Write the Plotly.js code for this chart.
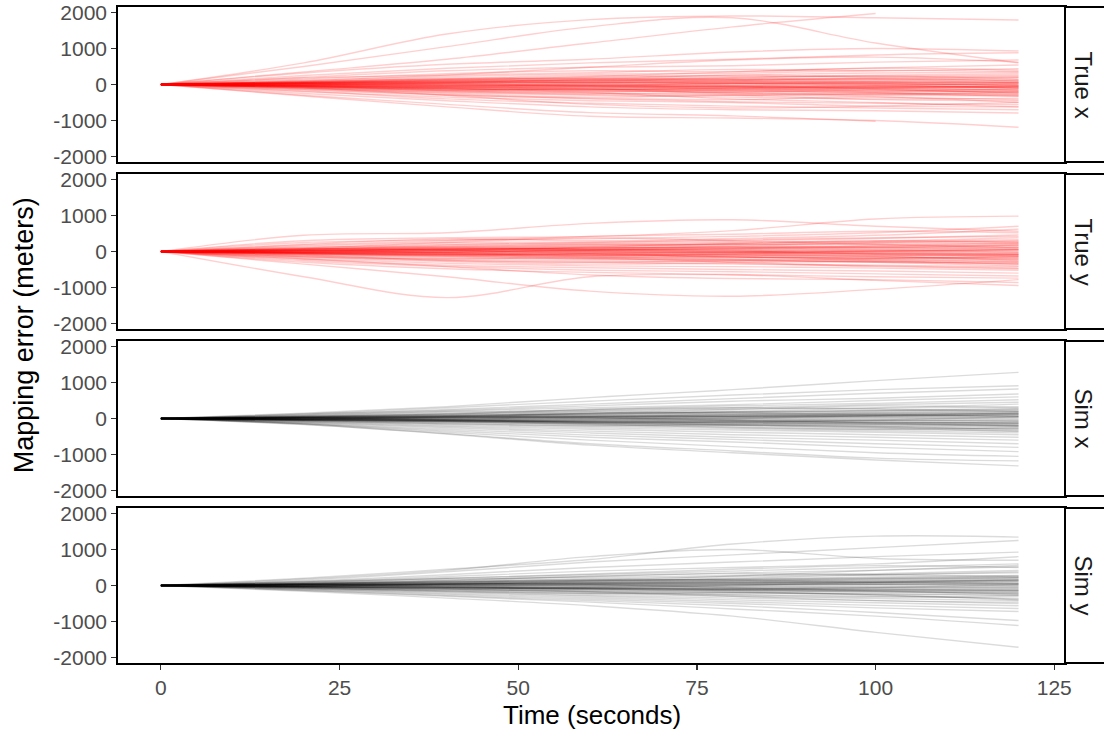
<!DOCTYPE html>
<html>
<head>
<meta charset="utf-8">
<script src="https://cdn.plot.ly/plotly-3.0.1.min.js"></script>
<style>html,body{margin:0;padding:0;background:#fff;}#chart{width:1104px;height:730px;}</style>
</head>
<body>
<div id="chart"></div>
<script>
const TIME = [0, 20, 40, 60, 80, 100, 120];

const PANEL_LABELS = ["True x", "True y", "Sim x", "Sim y"];
const X_TICKS = [0, 25, 50, 75, 100, 125];
const Y_TICKS = [-2000, -1000, 0, 1000, 2000];
const Y_TICK_TEXT = ["-2000", "-1000", "0", "1000", "2000"];

const TRUE_X = [
[0, 600, 1400, 1800, 1900, 1850, 1790],
[0, 500, 1050, 1600, 1850, 1150, 600],
[0, 350, 700, 1150, 1600, 1970, null],
[0, 320, 560, 700, 900, 1000, 930],
[0, 250, 450, 600, 700, 820, 880],
[0, 200, 380, 480, 520, 620, 680],
[0, 150, 300, 380, 360, 460, 540],
[0, 180, 260, 330, 420, 380, 440],
[0, 120, 220, 290, 310, 390, 360],
[0, 100, 160, 250, 220, 260, 300],
[0, 80, 180, 160, 260, 210, 230],
[0, 60, 110, 180, 160, 130, 190],
[0, 50, 80, 110, 130, 160, 110],
[0, 30, 50, 40, 80, 60, 60],
[0, 20, 20, 60, 20, 0, -20],
[0, 0, -30, 0, -20, -50, -60],
[0, -20, -50, -80, -60, -100, -90],
[0, -40, -80, -60, -120, -130, -150],
[0, -30, -100, -150, -100, -180, -120],
[0, -60, -120, -180, -200, -150, -230],
[0, -50, -150, -120, -250, -280, -200],
[0, -80, -180, -250, -230, -300, -320],
[0, -100, -200, -280, -300, -250, -280],
[0, -120, -220, -300, -350, -400, -380],
[0, -90, -250, -350, -300, -420, -450],
[0, -150, -300, -380, -420, -350, -500],
[0, -130, -280, -400, -480, -520, -560],
[0, -200, -350, -450, -500, -600, -620],
[0, -180, -400, -520, -600, -650, -700],
[0, -250, -450, -620, -700, -730, -790],
[0, -300, -550, -780, -870, -1020, null],
[0, -320, -620, -880, -930, -1000, -1185],
[0, 100, 260, 480, 680, 760, 620],
[0, -100, -300, -550, -650, -600, -500],
[0, 50, 130, 220, 350, 450, 400],
[0, -60, -110, -220, -400, -500, -620],
[0, 40, 60, 130, 90, 70, 20],
[0, -10, 10, -40, 30, -20, 40],
[0, 70, 140, 100, 180, 240, 150],
[0, -70, -160, -200, -160, -220, -260],
[0, 40, 90, 120, 150, 180, 200],
[0, -30, -60, -50, -90, -60, -100],
[0, 20, 40, 80, 110, 90, 130],
[0, -50, -90, -130, -170, -200, -180],
[0, 60, 70, 50, 30, 80, 60],
[0, -20, -20, -60, -40, -80, -40],
[0, 10, 50, 70, 40, 20, -10],
[0, -40, -70, -100, -130, -110, -170],
[0, 30, 20, -20, -60, -100, -140],
[0, -10, -40, -20, 10, 40, 80],
[0, 50, 100, 140, 200, 230, 260],
[0, -60, -140, -170, -220, -260, -300],
[0, 0, 30, 20, 50, 20, 10],
[0, -30, -80, -120, -140, -170, -210],
[0, 20, -10, -30, -80, -40, -60],
[0, 70, 120, 160, 130, 170, 100],
[0, -70, -120, -140, -180, -230, -330],
[0, 10, -20, 10, -30, -20, -100],
[0, 40, 90, 60, 100, 130, 40],
[0, -20, -60, -90, -70, -130, -240],
[0, 30, 60, 100, 60, 40, -30],
[0, -50, -110, -140, -110, -90, -50],
[0, 80, 150, 200, 260, 320, 340],
[0, -90, -170, -240, -280, -340, -420],
[0, 0, -10, -30, -50, -70, -80]
];

const TRUE_Y = [
[0, 450, 520, 780, 880, 700, 560],
[0, 300, 380, 420, 580, 900, 980],
[0, -700, -1280, -700, -650, -800, -944],
[0, -350, -700, -1100, -1240, -1050, -780],
[0, 250, 320, 350, 420, 520, 700],
[0, 200, 350, 300, 360, 450, 620],
[0, 150, 250, 260, 300, 360, 460],
[0, 100, 200, 220, 260, 290, 380],
[0, 120, 150, 200, 180, 250, 300],
[0, 80, 120, 150, 200, 180, 240],
[0, 60, 100, 80, 140, 120, 180],
[0, 40, 60, 100, 90, 110, 120],
[0, 20, 50, 40, 60, 40, 60],
[0, 10, 0, 20, -10, 10, 0],
[0, -10, -20, -40, -20, -50, -30],
[0, -20, -50, -60, -80, -70, -90],
[0, -30, -80, -100, -90, -120, -140],
[0, -50, -100, -80, -150, -180, -160],
[0, -60, -120, -160, -140, -200, -220],
[0, -80, -150, -200, -220, -250, -270],
[0, -100, -180, -220, -260, -300, -330],
[0, -120, -220, -260, -300, -280, -360],
[0, -140, -250, -300, -350, -380, -420],
[0, -160, -280, -350, -330, -420, -480],
[0, -200, -330, -400, -420, -460, -520],
[0, -230, -380, -450, -500, -540, -600],
[0, -260, -420, -520, -560, -620, -680],
[0, -300, -480, -580, -640, -700, -740],
[0, -200, -420, -650, -750, -780, -860],
[0, 180, 300, 420, 480, 560, 520],
[0, 60, 180, 250, 330, 380, 420],
[0, -40, -30, 50, 100, 150, 200],
[0, 30, -40, -100, -60, 0, 60],
[0, -100, -250, -300, -250, -200, -150],
[0, 80, 40, -60, -150, -250, -350],
[0, -20, 20, 120, 220, 300, 250],
[0, -150, -200, -180, -300, -400, -460],
[0, 100, 250, 380, 300, 200, 100],
[0, -50, -80, -150, -220, -300, -400],
[0, 0, 80, 60, 20, -80, -120],
[0, 50, 80, 120, 100, 150, 170],
[0, -40, -60, -40, -90, -110, -80],
[0, 30, 60, 50, 90, 60, 110],
[0, -60, -110, -150, -180, -160, -210],
[0, 20, 10, -20, 0, 30, -20],
[0, -20, -40, -90, -120, -150, -190],
[0, 70, 110, 160, 200, 240, 280],
[0, -10, 20, 40, 20, -20, -60],
[0, 40, 30, 0, -40, -90, -120],
[0, -70, -90, -60, -30, 10, 40],
[0, 10, 40, 90, 130, 110, 150],
[0, -30, -70, -110, -100, -140, -250],
[0, 60, 90, 70, 40, 10, 30],
[0, -80, -130, -190, -240, -280, -310],
[0, 0, -20, -10, -50, -40, -70],
[0, 30, 70, 110, 150, 210, 230],
[0, -50, -90, -120, -160, -210, -290],
[0, 20, 50, 20, -10, -60, -90],
[0, -30, -20, 20, 60, 90, 70],
[0, 80, 140, 190, 230, 270, 330]
];

const SIM_X = [
[0, 150, 330, 580, 800, 1050, 1280],
[0, 120, 300, 480, 650, 800, 910],
[0, 100, 250, 400, 550, 700, 820],
[0, 130, 220, 350, 480, 560, 680],
[0, 80, 200, 300, 380, 500, 600],
[0, 60, 150, 250, 350, 420, 520],
[0, 90, 180, 220, 300, 380, 450],
[0, 50, 120, 200, 260, 300, 400],
[0, 40, 100, 150, 200, 280, 330],
[0, 30, 80, 120, 180, 220, 280],
[0, 20, 60, 100, 120, 170, 200],
[0, 30, 40, 60, 100, 120, 150],
[0, 10, 30, 50, 60, 80, 100],
[0, 0, 10, 20, 10, 30, 40],
[0, -10, 0, -10, -20, -10, -20],
[0, -20, -30, -40, -50, -60, -70],
[0, -10, -40, -70, -90, -100, -120],
[0, -30, -60, -100, -120, -150, -180],
[0, -40, -80, -130, -160, -200, -230],
[0, -50, -100, -150, -200, -260, -290],
[0, -60, -120, -180, -240, -300, -350],
[0, -70, -140, -220, -280, -340, -400],
[0, -80, -170, -260, -320, -380, -450],
[0, -90, -200, -300, -380, -450, -520],
[0, -100, -230, -350, -450, -520, -600],
[0, -110, -260, -400, -520, -600, -700],
[0, -130, -300, -460, -580, -700, -800],
[0, -140, -340, -520, -650, -800, -920],
[0, -150, -380, -600, -780, -950, -1050],
[0, -160, -420, -700, -900, -1100, -1175],
[0, -170, -430, -740, -950, -1150, -1314],
[0, 70, 120, 250, 300, 260, 200],
[0, -20, 50, 150, 250, 350, 300],
[0, 20, -20, -100, -100, -50, 50],
[0, -50, -70, -40, 0, 80, 150],
[0, 40, 60, 20, -50, -120, -200],
[0, -30, -90, -160, -250, -300, -260],
[0, 60, 130, 180, 150, 120, 60],
[0, -60, -150, -200, -180, -220, -320],
[0, 10, -50, -120, -180, -250, -360],
[0, 30, 70, 110, 140, 160, 190],
[0, -20, -50, -60, -80, -110, -140],
[0, 20, 50, 60, 90, 130, 160],
[0, -40, -70, -110, -150, -170, -200],
[0, 10, 20, 50, 40, 60, 90],
[0, -10, -30, -30, -60, -50, -80],
[0, 40, 80, 130, 180, 220, 250],
[0, -30, -50, -90, -110, -140, -160],
[0, 0, -20, -10, 20, 10, -10],
[0, 20, 30, 10, -20, -40, -60],
[0, -20, -20, 10, 40, 70, 110],
[0, 50, 90, 140, 170, 200, 240],
[0, -50, -90, -140, -180, -220, -270],
[0, 10, 40, 80, 60, 90, 120],
[0, -10, -60, -100, -90, -120, -110],
[0, 30, 60, 70, 100, 90, 60],
[0, -40, -60, -80, -60, -90, -130],
[0, 20, 10, 30, 70, 110, 140],
[0, -30, -70, -90, -130, -160, -210],
[0, 0, 20, 40, 60, 50, 30]
];

const SIM_Y = [
[0, 200, 450, 720, 1150, 1370, 1343],
[0, 150, 380, 650, 850, 1050, 1250],
[0, 180, 420, 800, 1000, 750, 700],
[0, 120, 300, 500, 650, 800, 926],
[0, 100, 250, 400, 500, 600, 800],
[0, 80, 200, 300, 400, 500, 600],
[0, 60, 150, 250, 350, 420, 520],
[0, 90, 180, 220, 280, 330, 420],
[0, 50, 120, 180, 250, 300, 350],
[0, 40, 100, 140, 180, 240, 280],
[0, 30, 70, 110, 140, 180, 220],
[0, 20, 50, 80, 100, 130, 150],
[0, 10, 30, 40, 60, 80, 100],
[0, 0, 10, 10, 20, 30, 40],
[0, -10, -10, -20, -10, -20, -30],
[0, -20, -40, -50, -70, -80, -90],
[0, -30, -60, -90, -110, -130, -150],
[0, -40, -80, -120, -150, -190, -210],
[0, -50, -100, -160, -200, -240, -280],
[0, -60, -130, -200, -250, -300, -350],
[0, -70, -150, -230, -300, -360, -420],
[0, -80, -170, -270, -350, -420, -500],
[0, -90, -190, -300, -400, -480, -560],
[0, -100, -220, -340, -450, -550, -640],
[0, -110, -250, -380, -500, -620, -720],
[0, -130, -280, -420, -560, -750, -972],
[0, -140, -300, -460, -650, -850, -1111],
[0, -160, -350, -560, -850, -1300, -1713],
[0, 70, 140, 260, 330, 300, 250],
[0, -20, 40, 120, 200, 300, 380],
[0, 30, -10, -80, -100, -60, 20],
[0, -40, -80, -60, 0, 90, 160],
[0, 40, 70, 30, -60, -150, -240],
[0, -30, -100, -170, -260, -320, -290],
[0, 60, 120, 170, 150, 100, 60],
[0, -60, -160, -220, -200, -260, -380],
[0, 20, -40, -110, -170, -260, -400],
[0, 110, 200, 320, 450, 550, 500],
[0, -80, -120, -180, -300, -420, -460],
[0, 50, 90, 150, 260, 420, 560],
[0, 30, 60, 100, 130, 170, 210],
[0, -20, -40, -70, -90, -120, -130],
[0, 20, 40, 70, 110, 140, 180],
[0, -40, -80, -100, -130, -160, -190],
[0, 10, 30, 40, 30, 50, 70],
[0, -10, -20, -40, -50, -60, -50],
[0, 40, 90, 140, 170, 210, 260],
[0, -30, -60, -80, -120, -150, -170],
[0, 0, 10, -10, 10, 20, 0],
[0, 20, 20, 0, -30, -50, -70],
[0, -20, -10, 20, 50, 80, 120],
[0, 50, 100, 130, 160, 200, 230],
[0, -50, -100, -150, -190, -230, -260],
[0, 10, 50, 70, 80, 100, 130],
[0, -10, -50, -80, -100, -110, -120],
[0, 30, 50, 80, 90, 70, 50],
[0, -40, -60, -70, -90, -100, -140],
[0, 20, 20, 40, 80, 100, 150],
[0, -30, -60, -100, -140, -170, -230],
[0, 0, 30, 50, 40, 30, 20]
];

const PANELS = [
  {data: TRUE_X, color: "rgba(255,0,0,0.19)"},
  {data: TRUE_Y, color: "rgba(255,0,0,0.19)"},
  {data: SIM_X, color: "rgba(0,0,0,0.14)"},
  {data: SIM_Y, color: "rgba(0,0,0,0.14)"}
];

const FONT = "Liberation Sans, Arial, sans-serif";
const H = 656, PH = 155, GAP = 12;
const traces = [];
const layout = {
  width: 1104, height: 730,
  margin: {l: 118, r: 39, t: 7, b: 67},
  paper_bgcolor: "#ffffff", plot_bgcolor: "#ffffff",
  showlegend: false,
  font: {family: FONT, color: "#000"},
  shapes: [], annotations: []
};

PANELS.forEach((p, i) => {
  const s = i === 0 ? "" : String(i + 1);
  p.data.forEach(row => {
    traces.push({
      x: TIME, y: row, xaxis: "x" + s, yaxis: "y" + s,
      type: "scatter", mode: "lines", hoverinfo: "skip",
      line: {color: p.color, width: 1.4, shape: "spline"}
    });
  });
  const top = H - i * (PH + GAP);
  const dom = [(top - PH) / H, top / H];
  const bottom = i === 3;
  layout["xaxis" + s] = {
    domain: [0, 1], anchor: "y" + s, range: [-6, 126.5],
    showgrid: false, zeroline: false, showline: true, mirror: true,
    linecolor: "#000", linewidth: 1.8,
    tickmode: "array", tickvals: X_TICKS,
    ticks: bottom ? "outside" : "", ticklen: 5, tickwidth: 1.2, tickcolor: "#333",
    showticklabels: bottom, ticklabeloverflow: "allow",
    tickfont: {size: 21, color: "#4D4D4D", family: FONT}
  };
  if (i > 0) layout["xaxis" + s].matches = "x";
  layout["yaxis" + s] = {
    domain: dom, anchor: "x" + s, range: [-2150, 2150],
    showgrid: false, zeroline: false, showline: true, mirror: true,
    linecolor: "#000", linewidth: 1.8,
    tickmode: "array", tickvals: Y_TICKS, ticktext: Y_TICK_TEXT,
    ticks: "outside", ticklen: 5, tickwidth: 1.2, tickcolor: "#333",
    ticklabeloverflow: "allow",
    tickfont: {size: 21, color: "#4D4D4D", family: FONT}
  };
  layout.shapes.push({
    type: "rect", xref: "paper", yref: "y" + s + " domain",
    x0: 1, x1: 1.1, y0: 0, y1: 1,
    line: {color: "#000", width: 2}, fillcolor: "#ffffff", layer: "above"
  });
  layout.annotations.push({
    text: PANEL_LABELS[i], xref: "paper", yref: "y" + s + " domain",
    x: 1, y: 0.5, xshift: 18, xanchor: "center", yanchor: "middle",
    textangle: 90, showarrow: false,
    font: {size: 24, color: "#1A1A1A", family: FONT}
  });
});

layout.annotations.push({
  text: "Mapping error (meters)", xref: "paper", yref: "paper",
  x: -0.099, y: 0.5, xanchor: "center", yanchor: "middle",
  textangle: -90, showarrow: false,
  font: {size: 27, color: "#000", family: FONT}
});
layout.annotations.push({
  text: "Time (seconds)", xref: "paper", yref: "paper",
  x: 0.5, y: -0.079, xanchor: "center", yanchor: "middle",
  showarrow: false,
  font: {size: 26, color: "#000", family: FONT}
});

Plotly.newPlot("chart", traces, layout, {staticPlot: true, displayModeBar: false});
</script>
</body>
</html>
